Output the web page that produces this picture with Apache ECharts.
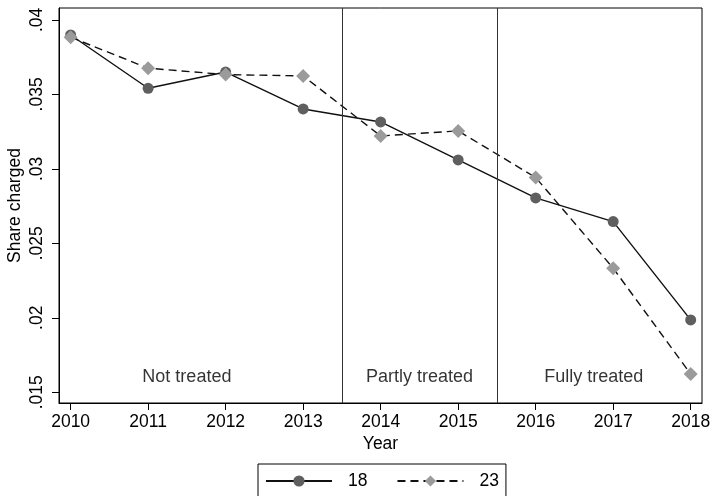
<!DOCTYPE html>
<html>
<head>
<meta charset="utf-8">
<script src="https://cdn.jsdelivr.net/npm/echarts@6/dist/echarts.min.js"></script>
<style>html,body{margin:0;padding:0;background:#fff}#c{width:714px;height:496px}</style>
</head>
<body>
<div id="c"></div>
<script>
var years = [2010, 2011, 2012, 2013, 2014, 2015, 2016, 2017, 2018];
var series18 = [0.03899, 0.03541, 0.0365, 0.03402, 0.03315, 0.0306, 0.02805, 0.02646, 0.01986];
var series23 = [0.03884, 0.03676, 0.03633, 0.03624, 0.03221, 0.03255, 0.02942, 0.02333, 0.01622];
var yTickValues = [0.015, 0.02, 0.025, 0.03, 0.035, 0.04];
var yTickLabels = ['.015', '.02', '.025', '.03', '.035', '.04'];
var xTickValues = years;
var dividers = [2013.5, 2015.5];
var regionNames = ['Not treated', 'Partly treated', 'Fully treated'];
var regionX = [2011.5, 2014.5, 2016.75];
var regionY = 0.01603;

var FONT = 'Liberation Sans';
function pairs(vals) { return years.map(function (y, i) { return [y, vals[i]]; }); }

var chart = echarts.init(document.getElementById('c'), null, {renderer: 'canvas'});
chart.setOption({
  animation: false,
  backgroundColor: '#fff',
  textStyle: {fontFamily: FONT},
  grid: {left: 59, top: 8, right: 12, bottom: 93, containLabel: false, outerBoundsMode: 'none',
    show: true, borderColor: '#000', borderWidth: 1, backgroundColor: '#fff'},
  xAxis: {
    type: 'value', min: 2009.85, max: 2018.146, scale: true,
    name: 'Year', nameLocation: 'middle', nameGap: 32, nameMoveOverlap: false,
    nameTextStyle: {fontFamily: FONT, fontSize: 17.5, color: '#000'},
    axisLine: {show: true, lineStyle: {color: '#000', width: 1}},
    axisTick: {show: true, length: 7, lineStyle: {color: '#000'}, customValues: xTickValues},
    axisLabel: {fontFamily: FONT, fontSize: 17.5, color: '#000', margin: 10, customValues: xTickValues,
      formatter: function (v) { return String(Math.round(v)); }},
    splitLine: {show: false}
  },
  yAxis: {
    type: 'value', min: 0.01428, max: 0.0408, scale: true,
    name: 'Share charged', nameLocation: 'middle', nameGap: 35, nameMoveOverlap: false,
    nameTextStyle: {fontFamily: FONT, fontSize: 17.5, color: '#000'},
    axisLine: {show: true, lineStyle: {color: '#000', width: 1}},
    axisTick: {show: true, length: 7, lineStyle: {color: '#000'}, customValues: yTickValues},
    axisLabel: {fontFamily: FONT, fontSize: 17.5, color: '#000', rotate: 90, margin: 13, customValues: yTickValues,
      formatter: function (v) {
        for (var i = 0; i < yTickValues.length; i++) { if (Math.abs(yTickValues[i] - v) < 1e-9) return yTickLabels[i]; }
        return '';
      }},
    splitLine: {show: false}
  },
  legend: {
    data: ['18', '23'],
    left: 258, top: 464,
    padding: [8, 7, 12, 7],
    borderColor: '#000', borderWidth: 1, backgroundColor: '#fff',
    itemWidth: 66, itemHeight: 14, itemGap: 29,
    textStyle: {fontFamily: FONT, fontSize: 17.5, color: '#000', padding: [0, 0, 0, 11]}
  },
  series: [
    {
      name: 'regions', type: 'scatter', silent: true, symbolSize: 1,
      itemStyle: {color: 'rgba(0,0,0,0)'},
      data: regionNames.map(function (n, i) { return {value: [regionX[i], regionY], name: n}; }),
      label: {show: true, position: 'inside', formatter: '{b}', fontFamily: FONT, fontSize: 18, color: '#000'},
      markLine: {
        silent: true, symbol: 'none', label: {show: false},
        lineStyle: {color: '#333', width: 1, type: 'solid'},
        data: dividers.map(function (d) { return {xAxis: d}; })
      },
      z: 1
    },
    {
      name: '18', type: 'line', data: pairs(series18),
      symbol: 'circle', symbolSize: 11,
      lineStyle: {color: '#111', width: 1.4, type: 'solid'},
      itemStyle: {color: '#5f5f5f'},
      z: 3
    },
    {
      name: '23', type: 'line', data: pairs(series23),
      symbol: 'diamond', symbolSize: 14,
      lineStyle: {color: '#111', width: 1.4, type: [8, 5]},
      itemStyle: {color: '#9b9b9b'},
      z: 4
    }
  ]
});
</script>
</body>
</html>
